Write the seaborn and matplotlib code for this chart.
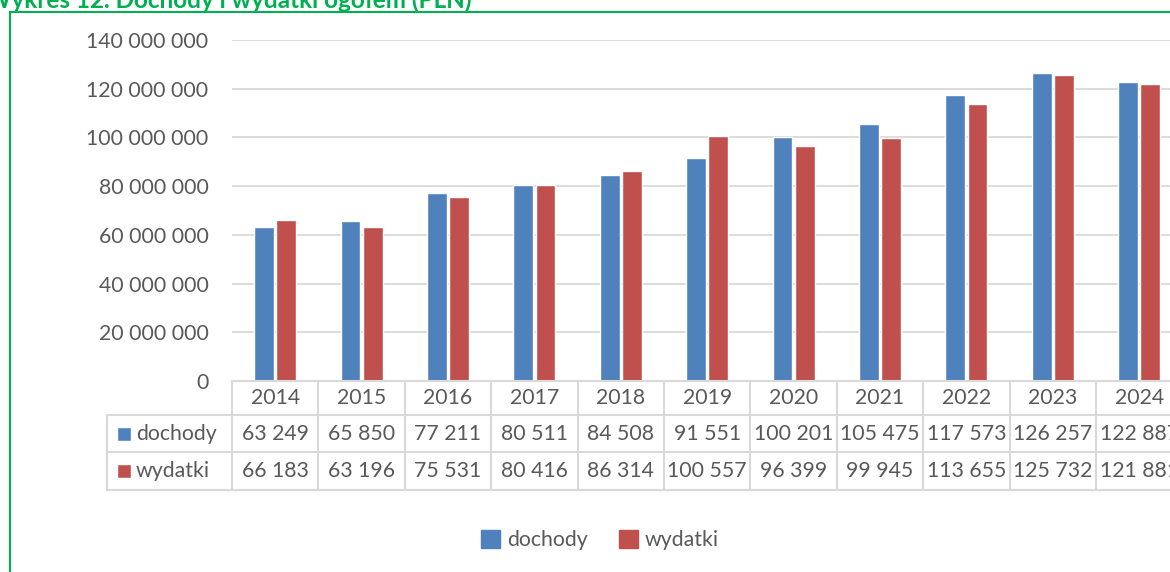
import matplotlib
matplotlib.use('Agg')
import matplotlib.pyplot as plt
import matplotlib.patches as mpatches
import pandas as pd
import seaborn as sns

# Data (tys. PLN in the table, PLN on the axis)
years = ['2014', '2015', '2016', '2017', '2018', '2019', '2020', '2021', '2022', '2023', '2024']
dochody = [63249, 65850, 77211, 80511, 84508, 91551, 100201, 105475, 117573, 126257, 122887]
wydatki = [66183, 63196, 75531, 80416, 86314, 100557, 96399, 99945, 113655, 125732, 121881]
series = ['dochody', 'wydatki']
colors = ['#4F81BD', '#C0504D']
yticks = [0, 20000000, 40000000, 60000000, 80000000, 100000000, 120000000, 140000000]

df = pd.DataFrame({'rok': years * 2,
                   'seria': ['dochody'] * len(years) + ['wydatki'] * len(years),
                   'wartosc': [v * 1000 for v in dochody + wydatki]})

sns.set_style('white')
plt.rcParams['font.family'] = ['Lato', 'DejaVu Sans']
txt = '#595959'
grid = '#D9D9D9'
fs = 15.3

W, H = 1170, 572
fig = plt.figure(figsize=(W / 100, H / 100), dpi=100)
cat_w = 86.4
ax = fig.add_axes([232 / W, (H - 381) / H, 11 * cat_w / W, 341 / H])

sns.barplot(data=df, x='rok', y='wartosc', hue='seria', palette=colors,
            width=0.51, gap=0.1, ax=ax, legend=False, saturation=1)

ax.set_xlim(-0.5, 10.5)
ax.set_ylim(0, 140000000)
ax.set_yticks(yticks)
ax.set_yticklabels([f'{v:,}'.replace(',', ' ') for v in yticks], color=txt, fontsize=fs)
ax.tick_params(axis='y', length=0, pad=17)
ax.set_xticks([])
ax.set_xlabel('')
ax.set_ylabel('')
ax.yaxis.grid(True, color=grid, linewidth=1.3)
ax.set_axisbelow(True)
for s in ['top', 'right', 'left']:
    ax.spines[s].set_visible(False)
ax.spines['bottom'].set_color(grid)
ax.spines['bottom'].set_linewidth(1.5)

# data table below the axis (y in axes fraction)
trans = ax.get_xaxis_transform()
px = 1 / 341
y_head = -34 * px
y_r1 = -71 * px
y_r2 = -109 * px
x_left = -0.5 - 125 / cat_w
lk = dict(color=grid, lw=1.5, transform=trans, clip_on=False)
for i in range(len(years) + 1):
    ax.plot([i - 0.5, i - 0.5], [0, y_r2], **lk)
ax.plot([x_left, x_left], [y_head, y_r2], **lk)
for yy in [y_head, y_r1, y_r2]:
    ax.plot([x_left, 10.5], [yy, yy], **lk)

for i, yr in enumerate(years):
    ax.text(i, y_head / 2, yr, ha='center', va='center', color=txt, fontsize=fs,
            transform=trans, clip_on=False)
    ax.text(i, (y_head + y_r1) / 2, f'{dochody[i]:,}'.replace(',', ' '), ha='center',
            va='center', color=txt, fontsize=fs, transform=trans, clip_on=False)
    ax.text(i, (y_r1 + y_r2) / 2, f'{wydatki[i]:,}'.replace(',', ' '), ha='center',
            va='center', color=txt, fontsize=fs, transform=trans, clip_on=False)

for name, col, (y0, y1) in zip(series, colors, [(y_head, y_r1), (y_r1, y_r2)]):
    yc = (y0 + y1) / 2
    ax.add_patch(mpatches.Rectangle((x_left + 10 / cat_w, yc - 7 * px), 14 / cat_w, 14 * px,
                                    facecolor=col, transform=trans, clip_on=False))
    ax.text(x_left + 29 / cat_w, yc, name, ha='left', va='center', color=txt,
            fontsize=fs, transform=trans, clip_on=False)

# legend at the bottom
handles = [mpatches.Patch(color=c, label=s) for s, c in zip(series, colors)]
fig.legend(handles=handles, loc='center', bbox_to_anchor=(600 / W, (H - 540) / H),
           ncol=2, frameon=False, fontsize=fs, labelcolor=txt, handlelength=0.9,
           handleheight=0.9, handletextpad=0.3, columnspacing=1.5)

# green frame and clipped title
fig.patches.append(mpatches.Rectangle((10 / W, -0.1), 1.2, (H - 12) / H + 0.1,
                                      transform=fig.transFigure, fill=False,
                                      edgecolor='#00B050', lw=1.5))
fig.text(-14 / W, (H - 8) / H, 'Wykres 12. Dochody i wydatki ogółem (PLN)',
         color='#00B050', fontsize=17.5, fontweight='bold', ha='left', va='baseline')

fig.savefig('out.png', dpi=100)
